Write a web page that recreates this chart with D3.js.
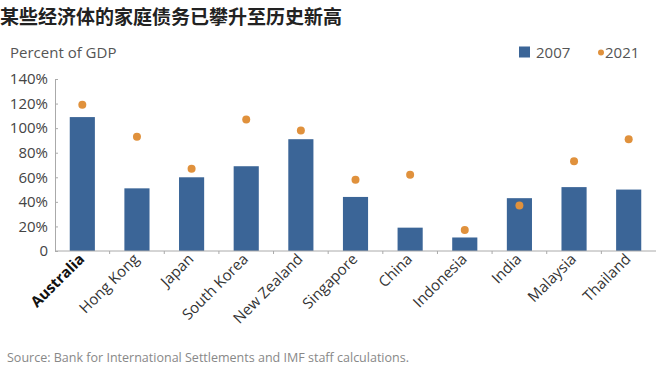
<!DOCTYPE html>
<html>
<head>
<meta charset="utf-8">
<script src="https://cdn.jsdelivr.net/npm/d3@7"></script>
<style>
  body { margin: 0; background: #fff; }
  text { font-family: "Open Sans", sans-serif; }
</style>
</head>
<body>
<div id="chart"></div>
<script>
var countries = ["Australia", "Hong Kong", "Japan", "South Korea", "New Zealand", "Singapore",
                 "China", "Indonesia", "India", "Malaysia", "Thailand"];
var debt2007 = [109, 51, 60, 69, 91, 44, 19, 11, 43, 52, 50];
var debt2021 = [119, 93, 67, 107, 98, 58, 62, 17, 37, 73, 91];
var yTicks = [0, 20, 40, 60, 80, 100, 120, 140];

var width = 657, height = 372;
var blue = "#3b6597", orange = "#e0913c";

var svg = d3.select("#chart").append("svg")
    .attr("width", width)
    .attr("height", height);

var x = d3.scaleBand()
    .domain(countries)
    .range([55, 656])
    .paddingInner(0.54)
    .paddingOuter(0.27);

var y = d3.scaleLinear()
    .domain([0, 140])
    .range([251, 79]);

// title
svg.append("text")
    .attr("x", 0)
    .attr("y", 24)
    .style("font-family", "'Noto Sans CJK SC', sans-serif")
    .style("font-weight", "bold")
    .style("font-size", "19px")
    .attr("fill", "#222")
    .text("某些经济体的家庭债务已攀升至历史新高");

svg.append("text")
    .attr("x", 10)
    .attr("y", 58)
    .style("font-size", "15px")
    .attr("fill", "#555")
    .text("Percent of GDP");

// y axis
var yAxis = svg.append("g")
    .attr("transform", "translate(55,0)")
    .call(d3.axisRight(y).tickValues(yTicks).tickSize(3)
        .tickFormat(function (d) { return d === 0 ? "0" : d + "%"; }));
yAxis.select(".domain").attr("stroke", "#aaa");
yAxis.selectAll(".tick line").attr("stroke", "#aaa");
yAxis.selectAll(".tick text")
    .attr("x", -7)
    .attr("text-anchor", "end")
    .style("font-family", "'Open Sans', sans-serif")
    .style("font-size", "15px")
    .attr("fill", "#444");

// bars
svg.selectAll("rect.bar")
    .data(countries)
    .enter()
    .append("rect")
    .attr("class", "bar")
    .attr("x", function (d) { return x(d); })
    .attr("width", x.bandwidth())
    .attr("y", function (d, i) { return y(debt2007[i]); })
    .attr("height", function (d, i) { return y(0) - y(debt2007[i]); })
    .attr("fill", blue);

// dots
svg.selectAll("circle.dot")
    .data(countries)
    .enter()
    .append("circle")
    .attr("class", "dot")
    .attr("cx", function (d) { return x(d) + x.bandwidth() / 2; })
    .attr("cy", function (d, i) { return y(debt2021[i]); })
    .attr("r", 4)
    .attr("fill", orange);

// x axis
var step = x.step();
svg.append("line")
    .attr("x1", 55).attr("x2", 656)
    .attr("y1", y(0)).attr("y2", y(0))
    .attr("stroke", "#aaa");
svg.selectAll("line.xtick")
    .data(countries.slice(1))
    .enter()
    .append("line")
    .attr("class", "xtick")
    .attr("x1", function (d) { return x(d) - (step - x.bandwidth()) / 2; })
    .attr("x2", function (d) { return x(d) - (step - x.bandwidth()) / 2; })
    .attr("y1", y(0)).attr("y2", y(0) + 3)
    .attr("stroke", "#aaa");

svg.selectAll("text.xlab")
    .data(countries)
    .enter()
    .append("text")
    .attr("class", "xlab")
    .attr("transform", function (d) {
        var cx = x(d) + x.bandwidth() / 2 + 3;
        return "translate(" + cx + ",260) rotate(-45)";
    })
    .attr("text-anchor", "end")
    .style("font-size", "15px")
    .style("font-weight", function (d, i) { return i === 0 ? "bold" : "normal"; })
    .attr("fill", function (d, i) { return i === 0 ? "#111" : "#333"; })
    .text(function (d) { return d; });

// legend
svg.append("rect")
    .attr("x", 519).attr("y", 46.5)
    .attr("width", 11).attr("height", 11)
    .attr("fill", blue);
svg.append("text")
    .attr("x", 536).attr("y", 58)
    .style("font-size", "15px")
    .attr("fill", "#555")
    .text("2007");
svg.append("circle")
    .attr("cx", 601).attr("cy", 52.5)
    .attr("r", 3)
    .attr("fill", orange);
svg.append("text")
    .attr("x", 605).attr("y", 58)
    .style("font-size", "15px")
    .attr("fill", "#555")
    .text("2021");

// source
svg.append("text")
    .attr("x", 7).attr("y", 362)
    .attr("textLength", 402)
    .attr("lengthAdjust", "spacingAndGlyphs")
    .style("font-size", "13px")
    .attr("fill", "#888")
    .text("Source: Bank for International Settlements and IMF staff calculations.");
</script>
</body>
</html>
